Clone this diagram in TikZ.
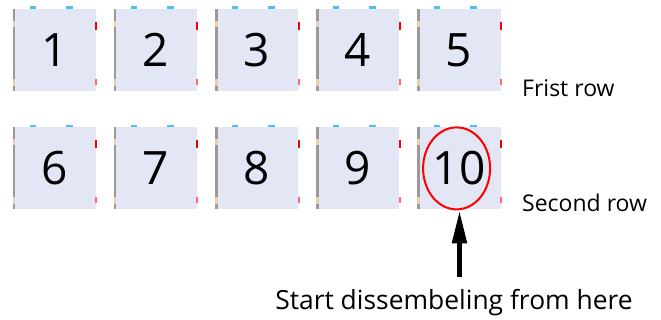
\documentclass[tikz,border=0pt]{standalone}
\usepackage{fontspec}
\setmainfont{Open Sans}
\usetikzlibrary{positioning, shapes, arrows.meta}
\definecolor{tilefill}{HTML}{E3E6F4}
\definecolor{edgegrey}{HTML}{9A9A9A}
\definecolor{tanmark}{HTML}{EBCDA8}
\definecolor{bluemark}{HTML}{4FC1E9}
\definecolor{pinkmark}{HTML}{FF6A6A}
\tikzset{
    x=1pt, y=1pt, % one unit is one pixel of the page
    node distance=17.75pt, % gap between two tiles in a row
    tile/.style={fill=tilefill, minimum width=83pt, minimum height=82pt, inner sep=0pt, font=\fontsize{46}{46}\selectfont}, % the numbered parts
    rowlabel/.style={anchor=base west, inner sep=0pt, font=\fontsize{23}{23}\selectfont},
    ring/.style={ellipse, draw=red, line width=2pt, minimum width=67pt, minimum height=82pt, inner sep=0pt},
    pointer/.style={line width=5pt, -{Triangle[length=33pt, width=14pt]}},
}
\begin{document}
\begin{tikzpicture}
    \useasboundingbox (0,0) rectangle (661,320);
    % first row
    \node[tile] (b1) at (54.5,270) {1};
    \node[tile, right=of b1] (b2) {2};
    \node[tile, right=of b2] (b3) {3};
    \node[tile, right=of b3] (b4) {4};
    \node[tile, right=of b4] (b5) {5};
    % second row
    \node[tile, below=36pt of b1] (b6) {6};
    \node[tile, right=of b6] (b7) {7};
    \node[tile, right=of b7] (b8) {8};
    \node[tile, right=of b8] (b9) {9};
    \node[tile, right=of b9] (b10) {10};
    % small marks on the tile edges
    \foreach \n in {1,...,10} {
        \fill[edgegrey] (b\n.north west) rectangle ++(2.5,-82);
        \fill[tanmark] (b\n.north west) ++(0,-12) rectangle ++(2.5,-6);
        \fill[tanmark] (b\n.north west) ++(0,-70) rectangle ++(2.5,-7);
        \fill[bluemark] (b\n.north west) ++(17,0) rectangle ++(6,2.5);
        \fill[bluemark] (b\n.north west) ++(53,0) rectangle ++(7,2.5);
        \fill[red] (b\n.north east) ++(-1,-13) rectangle ++(2,-8);
        \fill[pinkmark] (b\n.north east) ++(-1,-70) rectangle ++(2,-6);
    }
    \node[rowlabel] (lab1) at (522,223) {Frist row};
    \node[rowlabel] (lab2) at (522,108) {Second row};
    \node[ring] (ring) at ([xshift=-2.5pt]b10.center) {};
    \node[anchor=base, inner sep=0pt, font=\fontsize{26.4}{26.4}\selectfont] (start) at (454,10) {Start dissembeling from here};
    \coordinate (tail) at (459.5,43);
    \draw[pointer] (tail) -- (tail |- ring.south);
\end{tikzpicture}
\end{document}
